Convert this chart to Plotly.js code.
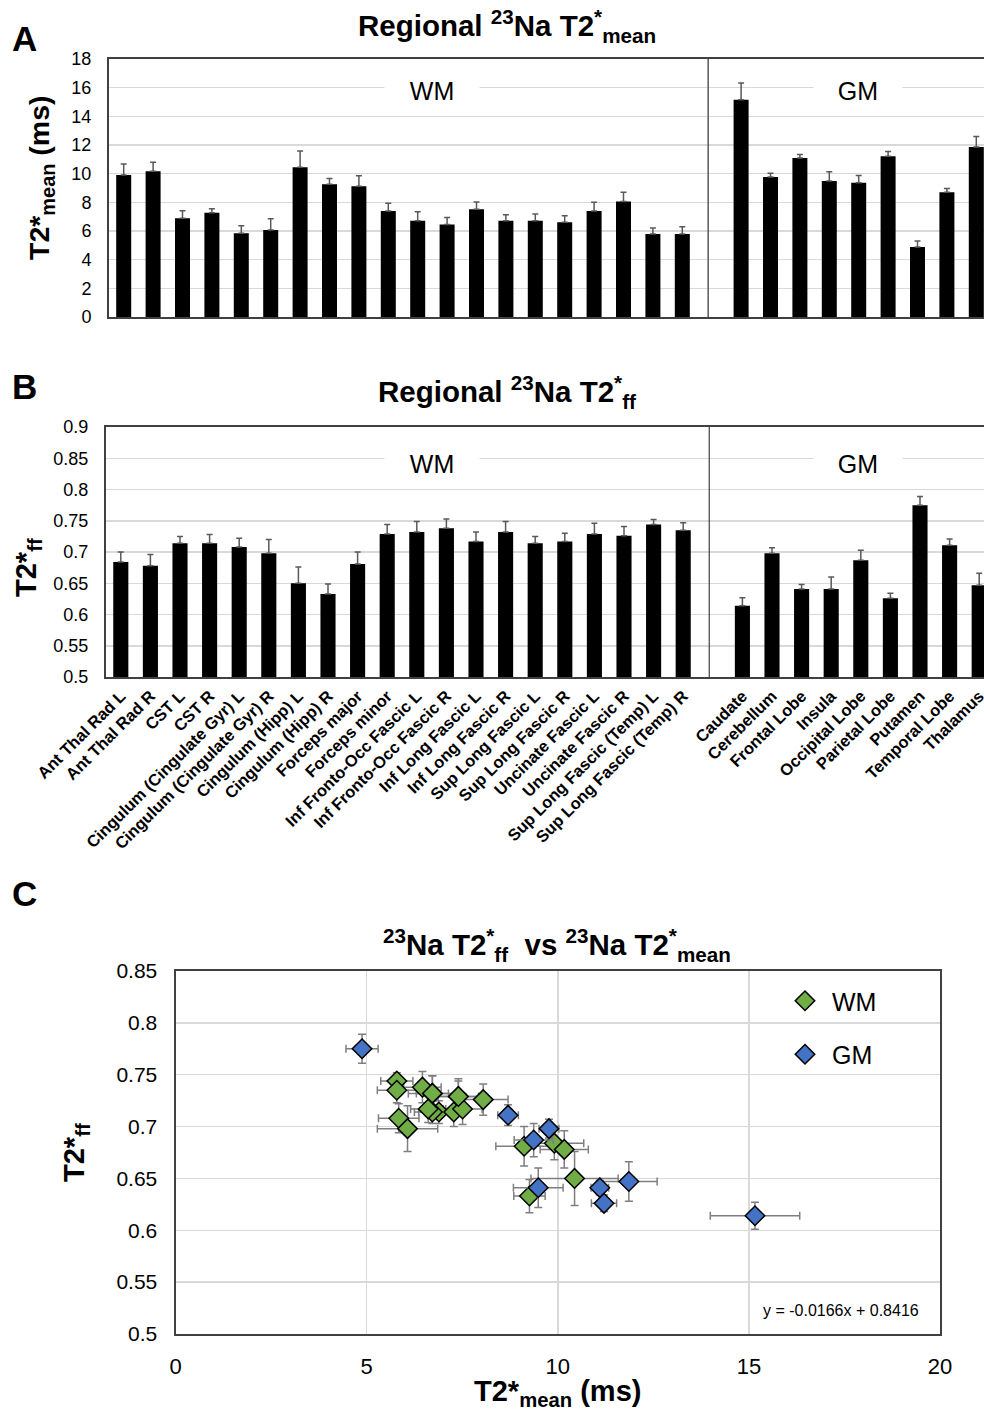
<!DOCTYPE html>
<html>
<head>
<meta charset="utf-8">
<script src="https://cdn.plot.ly/plotly-3.0.1.min.js"></script>
<style>
html, body { margin: 0; padding: 0; overflow: hidden; background: #fff; }
#chart { width: 1000px; height: 1413px; }
</style>
</head>
<body>
<div id="chart"></div>
<script>
// ---- Data ----
const wmRegions = [
  'Ant Thal Rad L', 'Ant Thal Rad R', 'CST L', 'CST R',
  'Cingulum (Cingulate Gyr) L', 'Cingulum (Cingulate Gyr) R',
  'Cingulum (Hipp) L', 'Cingulum (Hipp) R', 'Forceps major', 'Forceps minor',
  'Inf Fronto-Occ Fascic L', 'Inf Fronto-Occ Fascic R',
  'Inf Long Fascic L', 'Inf Long Fascic R', 'Sup Long Fascic L', 'Sup Long Fascic R',
  'Uncinate Fascic L', 'Uncinate Fascic R',
  'Sup Long Fascic (Temp) L', 'Sup Long Fascic (Temp) R'
];
const gmRegions = [
  'Caudate', 'Cerebellum', 'Frontal Lobe', 'Insula', 'Occipital Lobe',
  'Parietal Lobe', 'Putamen', 'Temporal Lobe', 'Thalamus'
];
const gapLabel = ' ';

// T2*mean (ms)
const wmMean    = [9.91, 10.17, 6.89, 7.28, 5.84, 6.07, 10.44, 9.26, 9.12, 7.40,
                   6.72, 6.46, 7.51, 6.72, 6.72, 6.61, 7.40, 8.05, 5.79, 5.79];
const wmMeanErr = [0.77, 0.63, 0.53, 0.28, 0.53, 0.79, 1.14, 0.41, 0.74, 0.53,
                   0.63, 0.49, 0.51, 0.42, 0.47, 0.46, 0.60, 0.65, 0.42, 0.51];
const gmMean    = [15.16, 9.77, 11.10, 9.49, 9.37, 11.21, 4.88, 8.70, 11.86];
const gmMeanErr = [1.17, 0.26, 0.23, 0.65, 0.51, 0.33, 0.42, 0.27, 0.74];

// T2*ff
const wmFF    = [0.684, 0.678, 0.714, 0.714, 0.708, 0.698, 0.650, 0.633, 0.681, 0.729,
                 0.732, 0.738, 0.717, 0.732, 0.714, 0.717, 0.729, 0.726, 0.744, 0.735];
const wmFFErr = [0.016, 0.018, 0.011, 0.014, 0.014, 0.022, 0.026, 0.016, 0.019, 0.015,
                 0.017, 0.015, 0.015, 0.017, 0.011, 0.013, 0.017, 0.015, 0.008, 0.012];
const gmFF    = [0.614, 0.698, 0.641, 0.641, 0.687, 0.626, 0.775, 0.711, 0.647];
const gmFFErr = [0.013, 0.009, 0.007, 0.019, 0.016, 0.008, 0.014, 0.010, 0.019];

const fitText = 'y = -0.0166x + 0.8416';

// ---- Layout helpers ----
const W = 1000, H = 1413;
const px = v => v / W;
const py = v => 1 - v / H;
const FONT = 'Liberation Sans, Arial, sans-serif';
const WM_COLOR = '#70AD47', GM_COLOR = '#4472C4';
const categories = [...wmRegions, gapLabel, ...gmRegions];
const zeros = a => a.map(() => 0);

function barErr(err) {
  return { type: 'data', symmetric: false, array: err, arrayminus: zeros(err),
           color: '#595959', thickness: 1.5, width: 3 };
}
function ptErr(err) {
  return { type: 'data', array: err, color: '#7f7f7f', thickness: 1.5, width: 4 };
}

const traces = [
  // Panel A
  { type: 'bar', x: wmRegions, y: wmMean, xaxis: 'x', yaxis: 'y',
    marker: { color: '#000' }, error_y: barErr(wmMeanErr), showlegend: false },
  { type: 'bar', x: gmRegions, y: gmMean, xaxis: 'x', yaxis: 'y',
    marker: { color: '#000' }, error_y: barErr(gmMeanErr), showlegend: false },
  // Panel B
  { type: 'bar', x: wmRegions, y: wmFF, xaxis: 'x2', yaxis: 'y2',
    marker: { color: '#000' }, error_y: barErr(wmFFErr), showlegend: false },
  { type: 'bar', x: gmRegions, y: gmFF, xaxis: 'x2', yaxis: 'y2',
    marker: { color: '#000' }, error_y: barErr(gmFFErr), showlegend: false },
  // Panel C
  { type: 'scatter', mode: 'markers', name: 'WM', x: wmMean, y: wmFF,
    xaxis: 'x3', yaxis: 'y3', legendgroup: 'wm',
    error_x: ptErr(wmMeanErr), error_y: ptErr(wmFFErr),
    marker: { symbol: 'diamond', size: 15, color: WM_COLOR, line: { color: '#000', width: 1.5 } } },
  { type: 'scatter', mode: 'markers', name: 'GM', x: gmMean, y: gmFF,
    xaxis: 'x3', yaxis: 'y3', legendgroup: 'gm',
    error_x: ptErr(gmMeanErr), error_y: ptErr(gmFFErr),
    marker: { symbol: 'diamond', size: 15, color: GM_COLOR, line: { color: '#000', width: 1.5 } } }
];

const gridC = '#d9d9d9', lineC = '#404040';
const catAxis = (dom, anchor, showLabels) => ({
  domain: dom, anchor: anchor, type: 'category', categoryorder: 'array', categoryarray: categories,
  range: [-0.5, categories.length - 0.5], showgrid: false, zeroline: false,
  showline: true, linecolor: lineC, linewidth: 2, mirror: true, ticks: '',
  showticklabels: showLabels, tickangle: -45, ticklabelstandoff: 1,
  tickfont: { family: FONT, size: 16.5, color: '#000', weight: 'bold' }, fixedrange: true
});
const valAxis = (dom, anchor, range, dtick, fs) => ({
  domain: dom, anchor: anchor, range: range, dtick: dtick, tick0: 0,
  showgrid: true, gridcolor: gridC, gridwidth: 1.5,
  zeroline: false, showline: true, linecolor: lineC, linewidth: 2, mirror: true, ticks: '',
  ticklabelstandoff: 12, tickfont: { family: FONT, size: fs, color: '#000' }, fixedrange: true
});

const gapPos = wmRegions.length - 0.12;

function note(text, x, y, size, extra) {
  return Object.assign({ text: text, xref: 'paper', yref: 'paper', x: px(x), y: py(y),
    xanchor: 'center', yanchor: 'middle', showarrow: false,
    font: { family: FONT, size: size, color: '#000' } }, extra || {});
}
function groupLabel(text, yref, x, y, w) {
  return { text: text, xref: 'paper', yref: yref, x: px(x), y: y, xanchor: 'center', yanchor: 'middle',
    showarrow: false, width: w, bgcolor: '#fff', font: { family: FONT, size: 25, color: '#000' } };
}

const layout = {
  width: W, height: H,
  margin: { l: 0, r: 0, t: 0, b: 0 },
  paper_bgcolor: '#fff', plot_bgcolor: '#fff',
  barmode: 'overlay', bargap: 0.49,
  font: { family: FONT, color: '#000' },
  xaxis: catAxis([px(109), px(991)], 'y', false),
  yaxis: valAxis([py(317), py(59)], 'x', [0, 18], 2, 18),
  xaxis2: catAxis([px(106), px(994)], 'y2', true),
  yaxis2: valAxis([py(677), py(427)], 'x2', [0.5, 0.9], 0.05, 18),
  xaxis3: valAxis([px(175.5), px(940)], 'y3', [0, 20], 5, 22),
  yaxis3: valAxis([py(1334), py(971)], 'x3', [0.5, 0.85], 0.05, 21),
  showlegend: true,
  legend: {
    x: px(778), y: py(978), xanchor: 'left', yanchor: 'top',
    bgcolor: 'rgba(0,0,0,0)', traceorder: 'grouped', tracegroupgap: 18,
    font: { family: FONT, size: 25, color: '#000' }, itemwidth: 44
  },
  shapes: [
    { type: 'line', xref: 'x', yref: 'y domain', x0: gapPos, x1: gapPos, y0: 0, y1: 1,
      line: { color: '#595959', width: 1.5 } },
    { type: 'line', xref: 'x2', yref: 'y2 domain', x0: gapPos, x1: gapPos, y0: 0, y1: 1,
      line: { color: '#404040', width: 1.2 } }
  ],
  annotations: [
    // panel letters
    note('<b>A</b>', 24, 38, 35),
    note('<b>B</b>', 24, 387, 35),
    note('<b>C</b>', 24, 893, 35),
    // titles
    note('<b>Regional <sup>23</sup>Na T2<sup>*</sup><sub>mean</sub></b>', 507, 26, 29.5),
    note('<b>Regional <sup>23</sup>Na T2<sup>*</sup><sub>ff</sub></b>', 507, 392, 29.5),
    note('<b><sup>23</sup>Na T2<sup>*</sup><sub>ff</sub>  vs <sup>23</sup>Na T2<sup>*</sup><sub>mean</sub></b>', 557, 945, 29.5),
    // axis titles
    note('<b>T2*<sub>mean</sub> (ms)</b>', 41, 178, 28.5, { textangle: -90 }),
    note('<b>T2*<sub>ff</sub></b>', 28, 568, 29, { textangle: -90 }),
    note('<b>T2*<sub>ff</sub></b>', 76, 1153, 29, { textangle: -90 }),
    note('<b>T2*<sub>mean</sub> (ms)</b>', 557, 1393, 29),
    // WM / GM labels
    groupLabel('WM', 'y', 432, 15.8, 92),
    groupLabel('GM', 'y', 858, 15.8, 86),
    groupLabel('WM', 'y2', 432, 0.841, 92),
    groupLabel('GM', 'y2', 858, 0.841, 86),
    // fit equation
    note(fitText, 841, 1310, 16)
  ]
};

Plotly.newPlot('chart', traces, layout, { displayModeBar: false, staticPlot: true });
</script>
</body>
</html>
